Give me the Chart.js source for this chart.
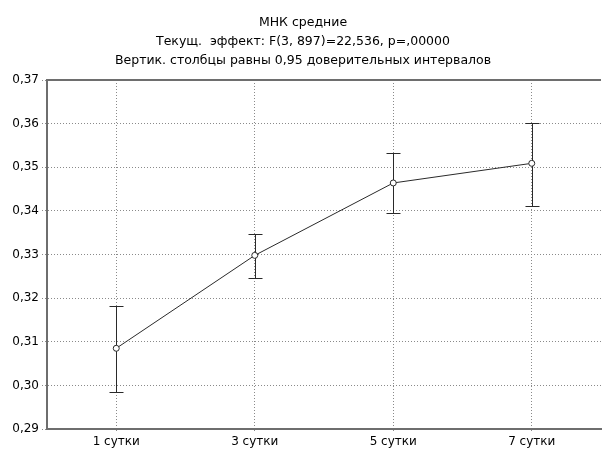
<!DOCTYPE html>
<html>
<head>
<meta charset="utf-8">
<script src="https://cdn.jsdelivr.net/npm/chart.js@4.4.1/dist/chart.umd.min.js"></script>
<style>
  html, body { margin: 0; padding: 0; background: #fff; }
  #chart { display: block; }
</style>
</head>
<body>
<canvas id="chart" width="606" height="450"></canvas>
<script>
// Data
const categories = ['1 сутки', '3 сутки', '5 сутки', '7 сутки'];
const means = [0.3085, 0.3298, 0.3464, 0.3509];
const lower = [0.2985, 0.3246, 0.3394, 0.3411];
const upper = [0.3181, 0.3346, 0.3532, 0.3602];
const yTicks = [0.29, 0.30, 0.31, 0.32, 0.33, 0.34, 0.35, 0.36, 0.37];
const titleLines = [
  'МНК средние',
  'Текущ.  эффект: F(3, 897)=22,536, p=,00000',
  'Вертик. столбцы равны 0,95 доверительных интервалов'
];

const FONT = '"DejaVu Sans", sans-serif';

// error bars (drawn under the points) + solid top frame line
const errorBars = {
  id: 'errorBars',
  beforeDatasetsDraw(chart) {
    const { ctx, chartArea, scales: { x, y } } = chart;
    ctx.save();
    ctx.strokeStyle = '#6e6e6e';
    ctx.lineWidth = 2;
    ctx.beginPath();
    ctx.moveTo(chartArea.left, chartArea.top);
    ctx.lineTo(chartArea.right, chartArea.top);
    ctx.stroke();

    ctx.strokeStyle = '#2a2a2a';
    ctx.lineWidth = 1;
    const cap = 7;
    categories.forEach((c, i) => {
      const px = Math.round(x.getPixelForValue(i)) + 0.5;
      const yTop = Math.round(y.getPixelForValue(upper[i])) + 0.5;
      const yBot = Math.round(y.getPixelForValue(lower[i])) + 0.5;
      ctx.beginPath();
      ctx.moveTo(px, yTop); ctx.lineTo(px, yBot);
      ctx.moveTo(px - cap, yTop); ctx.lineTo(px + cap, yTop);
      ctx.moveTo(px - cap, yBot); ctx.lineTo(px + cap, yBot);
      ctx.stroke();
    });
    ctx.restore();
  }
};

new Chart(document.getElementById('chart'), {
  type: 'line',
  data: {
    labels: categories,
    datasets: [{
      data: means,
      borderColor: '#2a2a2a',
      borderWidth: 1,
      pointRadius: 3,
      pointBackgroundColor: '#fff',
      pointBorderColor: '#2a2a2a',
      pointBorderWidth: 1,
      fill: false,
      tension: 0
    }]
  },
  options: {
    responsive: false,
    animation: false,
    devicePixelRatio: 1,
    layout: { padding: 0 },
    plugins: {
      legend: { display: false },
      tooltip: { enabled: false },
      title: {
        display: true,
        text: titleLines,
        color: '#000',
        font: { family: FONT, size: 12.5, weight: 'normal', lineHeight: 1.52 },
        padding: { top: 13, bottom: 10 }
      }
    },
    scales: {
      x: {
        type: 'category',
        offset: true,
        afterFit(scale) {
          scale.height = 21;
          scale.paddingLeft = 0;
          scale.paddingRight = 0;
        },
        ticks: {
          color: '#000',
          font: { family: FONT, size: 12 },
          padding: 2,
          maxRotation: 0
        },
        grid: {
          offset: false,
          color: '#8a8a8a',
          lineWidth: 1,
          tickLength: 4,
          tickColor: '#8a8a8a',
          tickBorderDash: [1, 2]
        },
        border: { display: true, color: '#6e6e6e', width: 2, dash: [1, 2] }
      },
      y: {
        min: 0.29,
        max: 0.37,
        afterBuildTicks(scale) {
          scale.ticks = yTicks.map(v => ({ value: v }));
        },
        afterFit(scale) { scale.width = 47; },
        ticks: {
          callback: v => v.toFixed(2).replace('.', ','),
          color: '#000',
          font: { family: FONT, size: 12 },
          padding: 3
        },
        grid: {
          color: '#8a8a8a',
          lineWidth: 1,
          tickLength: 5,
          tickColor: '#8a8a8a',
          tickBorderDash: [1, 2]
        },
        border: { display: true, color: '#6e6e6e', width: 2, dash: [1, 2] }
      }
    }
  },
  plugins: [errorBars]
});
</script>
</body>
</html>
